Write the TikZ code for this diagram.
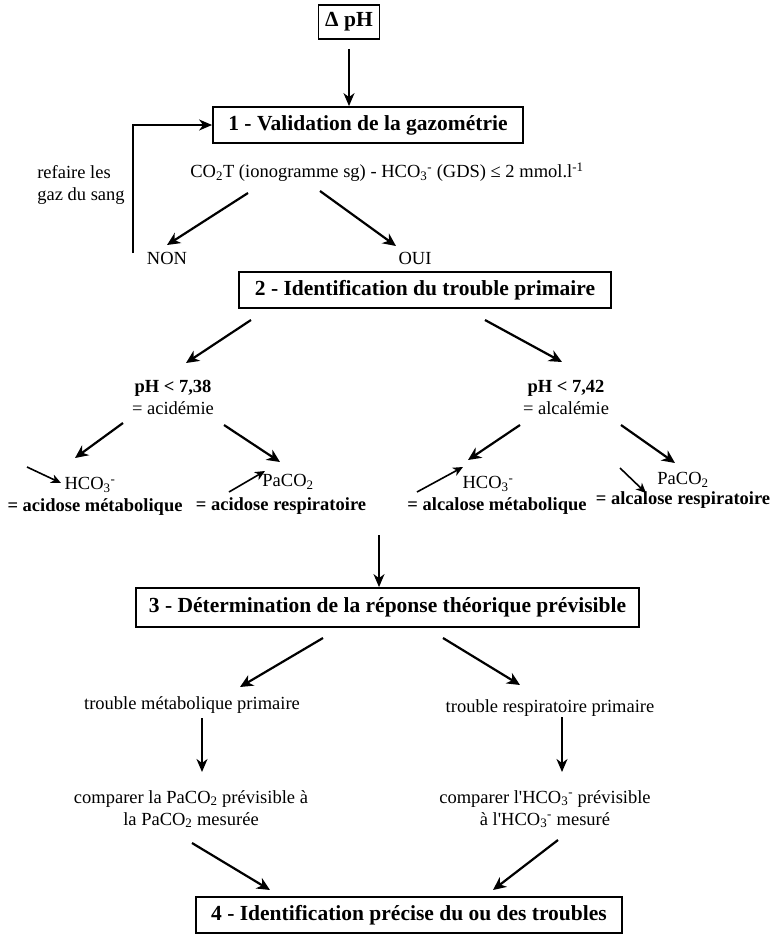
\documentclass[tikz,border=0pt]{standalone}
\usepackage{fontspec}
\setmainfont{Liberation Serif}
\usetikzlibrary{arrows.meta}
\tikzset{
 box/.style={draw, line width=1.8pt, inner sep=0pt, font=\fontsize{21.5}{24}\selectfont\bfseries},
 txt/.style={inner sep=0pt, align=center, font=\fontsize{18.5}{22}\selectfont},
 btxt/.style={inner sep=0pt, align=center, font=\fontsize{18.5}{22}\selectfont\bfseries},
 arr/.style={line width=2.2pt, -{Stealth[length=13pt,width=12pt,inset=4pt]}},
 varr/.style={line width=1.7pt, -{Stealth[length=13pt,width=11pt,inset=4pt]}},
 sarr/.style={line width=1.6pt, -{Stealth[length=10pt,width=9pt,inset=3pt]}},
}
\begin{document}
\begin{tikzpicture}[x=1pt,y=-1pt]
\useasboundingbox (0,0) rectangle (771,937);
% boxes
\node[box, minimum width=61pt, minimum height=34pt] (dph) at (349,22) {Δ pH};
\node[box, minimum width=310pt, minimum height=36pt] (b1) at (368,125) {1 - Validation de la gazométrie};
\node[box, minimum width=372pt, minimum height=36pt] (b2) at (425,290) {2 - Identification du trouble primaire};
\node[box, minimum width=503pt, minimum height=39pt] (b3) at (387.5,607.5) {3 - Détermination de la réponse théorique prévisible};
\node[box, minimum width=426pt, minimum height=36pt] (b4) at (409,915) {4 - Identification précise du ou des troubles};
% texts
\node[txt, align=left] (refaire) at (81,185) {refaire les\\gaz du sang};
\node[txt] (co2t) at (387,172) {CO\textsubscript{2}T (ionogramme sg) - HCO\textsubscript{3}\textsuperscript{-} (GDS) ≤ 2 mmol.l\textsuperscript{-1}};
\node[txt] (non) at (167,258) {NON};
\node[txt] (oui) at (415,258) {OUI};
\node[txt] (ph1) at (173,397) {\textbf{pH < 7,38}\\= acidémie};
\node[txt] (ph2) at (566,397) {\textbf{pH < 7,42}\\= alcalémie};
\node[txt] (f1) at (90,485) {HCO\textsubscript{3}\textsuperscript{-}};
\node[txt] (f2) at (288,482) {PaCO\textsubscript{2}};
\node[txt] (f3) at (488,484) {HCO\textsubscript{3}\textsuperscript{-}};
\node[txt] (f4) at (683,480) {PaCO\textsubscript{2}};
\node[btxt] (l1) at (95,507) {= acidose métabolique};
\node[btxt] (l2) at (281,506) {= acidose respiratoire};
\node[btxt] (l3) at (497,506) {= alcalose métabolique};
\node[btxt] (l4) at (683,500) {= alcalose respiratoire};
\node[txt] (tm) at (192,705) {trouble métabolique primaire};
\node[txt] (tr) at (550,708) {trouble respiratoire primaire};
\node[txt] (c1) at (191,809) {comparer la PaCO\textsubscript{2} prévisible à\\la PaCO\textsubscript{2} mesurée};
\node[txt] (c2) at (545,809) {comparer l\textquotesingle HCO\textsubscript{3}\textsuperscript{-} prévisible\\à l\textquotesingle HCO\textsubscript{3}\textsuperscript{-} mesuré};
% free coordinates
\coordinate (fb) at (133,253);
\coordinate (n0) at (248,193); \coordinate (n1) at (167,245);
\coordinate (o0) at (320,191); \coordinate (o1) at (396,246);
\coordinate (a0) at (251,320); \coordinate (a1) at (186,363);
\coordinate (k0) at (485,320); \coordinate (k1) at (562,362);
\coordinate (p0) at (123,423); \coordinate (p1) at (75,458);
\coordinate (q0) at (224,425); \coordinate (q1) at (280,462);
\coordinate (r0) at (520,425); \coordinate (r1) at (468,460);
\coordinate (s0) at (621,425); \coordinate (s1) at (675,463);
\coordinate (m0) at (379,535);
\coordinate (t0) at (323,638); \coordinate (t1) at (240,687);
\coordinate (u0) at (443,638); \coordinate (u1) at (520,685);
\coordinate (v0) at (202,718); \coordinate (v1) at (202,772);
\coordinate (w0) at (562,717); \coordinate (w1) at (562,772);
\coordinate (x0) at (192,843); \coordinate (x1) at (270,890);
\coordinate (y0) at (558,840); \coordinate (y1) at (493,890);
\coordinate (sa0) at (27,467); \coordinate (sa1) at (61,483);
\coordinate (sb0) at (229,492); \coordinate (sb1) at (265,471);
\coordinate (sc0) at (417,492); \coordinate (sc1) at (463,467);
\coordinate (sd0) at (620,468); \coordinate (sd1) at (646,493);
% connectors
\draw[varr] ([yshift=-9pt]dph.south) -- (dph.south |- b1.north);
\draw[varr] (fb) |- (b1.west);
\draw[arr] (n0) -- (n1);
\draw[arr] (o0) -- (o1);
\draw[arr] (a0) -- (a1);
\draw[arr] (k0) -- (k1);
\draw[arr] (p0) -- (p1);
\draw[arr] (q0) -- (q1);
\draw[arr] (r0) -- (r1);
\draw[arr] (s0) -- (s1);
\draw[varr] (m0) -- (m0 |- b3.north);
\draw[arr] (t0) -- (t1);
\draw[arr] (u0) -- (u1);
\draw[varr] (v0) -- (v1);
\draw[varr] (w0) -- (w1);
\draw[arr] (x0) -- (x1);
\draw[arr] (y0) -- (y1);
\draw[sarr] (sa0) -- (sa1);
\draw[sarr] (sb0) -- (sb1);
\draw[sarr] (sc0) -- (sc1);
\draw[sarr] (sd0) -- (sd1);
\end{tikzpicture}
\end{document}
